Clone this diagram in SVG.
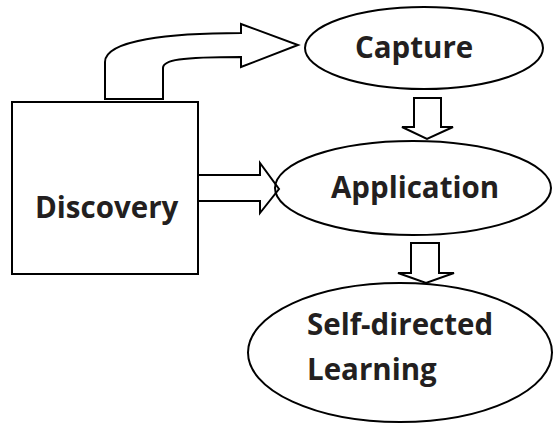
<svg xmlns="http://www.w3.org/2000/svg" width="553" height="431" viewBox="0 0 553 431">
<style>
.shape{fill:none;stroke:#000;stroke-width:2}
.arrow{fill:#fff;stroke:#000;stroke-width:2;stroke-linejoin:miter}
.lbl{font-family:"Open Sans","Liberation Sans",sans-serif;font-weight:bold;font-size:29.5px;fill:#231f20}
</style>
<rect width="553" height="431" fill="#fff"/>
<g id="connectors">
<path class="arrow" d="M105,99 L105,62 C105,40 170,33 241,33 L241,24 L298,45 L241,67 L241,57 C180,57 163,60 163,68 L163,99 Z"/>
<path class="arrow" d="M198,175 L260,175 L260,163 L279,189 L260,213 L260,201 L198,201"/>
<path class="arrow" d="M414,98 L441,98 L441,127 L453,127 L427,139 L402,127 L414,127 Z"/>
<path class="arrow" d="M411,243 L439,243 L439,273 L454,273 L426,283 L398,273 L411,273 Z"/>
</g>
<g id="discovery">
<rect class="shape" x="12" y="102" width="186" height="172"/>
<text class="lbl" x="35" y="218">Discovery</text>
</g>
<g id="capture">
<ellipse class="shape" cx="424" cy="48" rx="119" ry="41"/>
<text class="lbl" x="355" y="58">Capture</text>
</g>
<g id="application">
<ellipse class="shape" cx="413" cy="188" rx="138" ry="47"/>
<text class="lbl" x="331" y="198">Application</text>
</g>
<g id="self-directed">
<ellipse class="shape" cx="400" cy="352.5" rx="152" ry="69.5"/>
<text class="lbl" x="307" y="335">Self-directed</text>
<text class="lbl" x="307" y="380">Learning</text>
</g>
</svg>
